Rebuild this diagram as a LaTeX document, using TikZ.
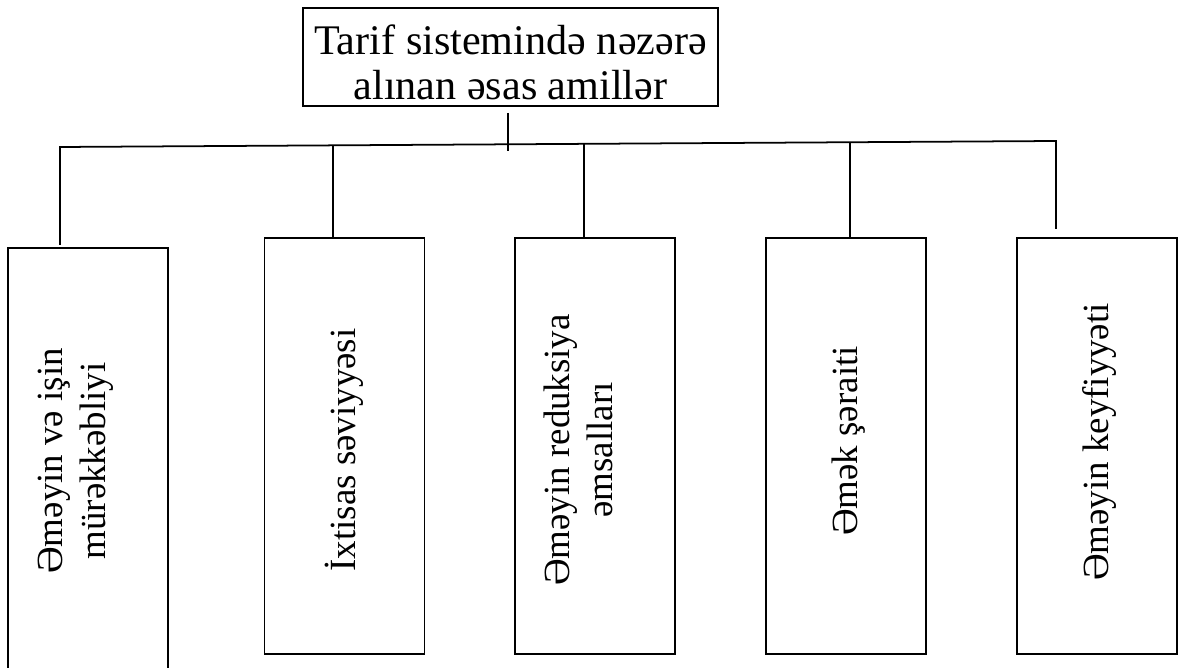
\documentclass[tikz,border=0pt]{standalone}
\usepackage{fontspec}
\setmainfont{Liberation Serif}
\begin{document}
\begin{tikzpicture}[x=0.02cm, y=-0.02cm, line width=1pt,
    factor/.style={draw, minimum width=3.2cm, minimum height=8.32cm},
    ftext/.style={rotate=90, align=center, font=\fontsize{21}{24.5}\selectfont}]
    \useasboundingbox (0,0) rectangle (1179,668);

    % Baş blok
    \node[draw, minimum width=8.3cm, minimum height=1.96cm] (title) at (510.5,57) {};
    \node[align=center, font=\fontsize{24}{25.5}\selectfont] (tt)
      at ([yshift=-0.1cm]title.center) {Tarif sistemində nəzərə\\alınan əsas amillər};

    % Amillər
    \node[factor, minimum height=8.8cm] (b1) at (88,468) {};
    \node[factor] (b2) at (344.5,446) {};
    \node[factor] (b3) at (595,446) {};
    \node[factor] (b4) at (846,446) {};
    \node[factor] (b5) at (1097,446) {};

    \node[ftext] (t1) at (76,461) {Əməyin və işin\\mürəkkəbliyi};
    \node[ftext] (t2) at (344.5,450) {İxtisas səviyyəsi};
    \node[ftext] (t3) at (578,450) {Əməyin reduksiya\\əmsalları};
    \node[ftext] (t4) at (849,441) {Əmək şəraiti};
    \node[ftext] (t5) at (1099,442) {Əməyin keyfiyyəti};

    % Birləşdirici xətlər
    \coordinate (busL) at (60,147);
    \coordinate (busR) at (1056,141);
    \coordinate (s0) at (508,151);
    \coordinate (s2) at (333,145.4);
    \coordinate (s3) at (584,143.8);
    \coordinate (s4) at (850,142.2);
    \coordinate (e1) at (60,245);
    \coordinate (e5) at (1056,229);

    \draw ([yshift=-0.12cm]title.south -| s0) -- (s0);
    \draw (e1) -- (busL) -- (busR) -- (e5);
    \draw (s2) -- (s2 |- b2.north);
    \draw (s3) -- (s3 |- b3.north);
    \draw (s4) -- (s4 |- b4.north);
\end{tikzpicture}
\end{document}
